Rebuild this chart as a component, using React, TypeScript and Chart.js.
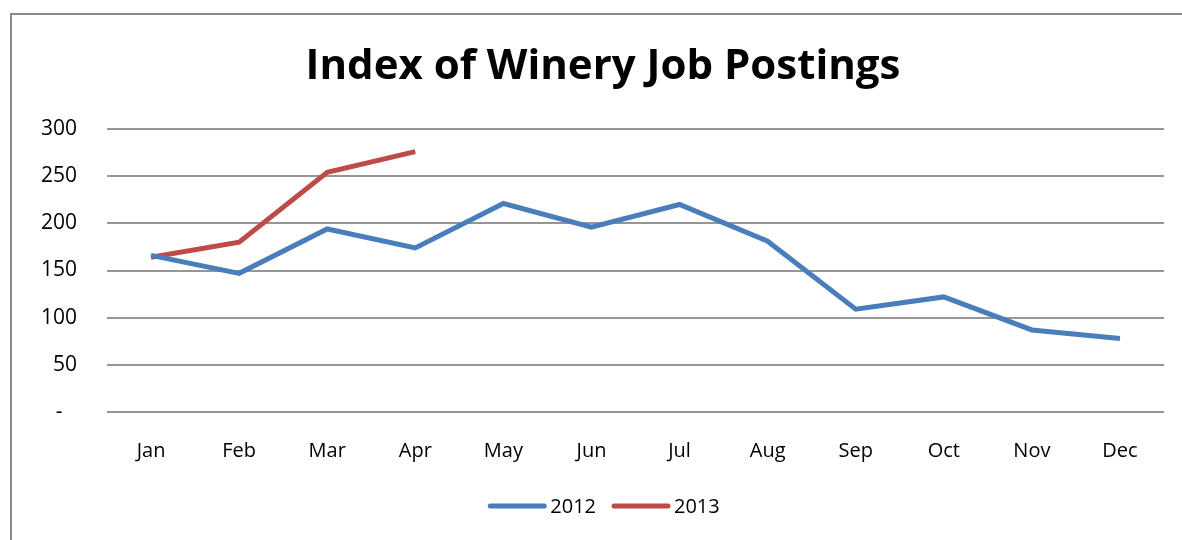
import React, { useEffect, useRef } from "react";
import { Chart, registerables } from "chart.js";

Chart.register(...registerables);

const months = ["Jan", "Feb", "Mar", "Apr", "May", "Jun", "Jul", "Aug", "Sep", "Oct", "Nov", "Dec"];
const values2012 = [166, 147, 194, 174, 221, 196, 220, 181, 109, 122, 87, 78];
const values2013 = [164, 180, 254, 276, null, null, null, null, null, null, null, null];
const yTicks = [0, 50, 100, 150, 200, 250, 300];
const titleText = "Index of Winery Job Postings";

const FONT = "'Open Sans', sans-serif";

export default function App() {
  const ref = useRef<HTMLCanvasElement | null>(null);

  useEffect(() => {
    document.body.style.margin = "0";
    const canvas = ref.current;
    if (!canvas) return;

    const titlePlugin = {
      id: "customTitle",
      afterDraw(chart: any) {
        const ctx = chart.ctx;
        ctx.save();
        ctx.font = `bold 42px ${FONT}`;
        ctx.fillStyle = "#000";
        ctx.textAlign = "center";
        ctx.textBaseline = "middle";
        ctx.fillText(titleText, 603, 67);
        ctx.restore();
      },
    };

    const legendPlugin = {
      id: "customLegend",
      afterDraw(chart: any) {
        const ctx = chart.ctx;
        ctx.save();
        ctx.font = `20px ${FONT}`;
        ctx.textBaseline = "middle";
        const y = 506;
        const lineW = 58;
        const gapText = 4;
        const gapItem = 16;
        const items = chart.data.datasets.map((d: any) => ({
          label: d.label,
          color: d.borderColor,
          w: lineW + gapText + ctx.measureText(d.label).width,
        }));
        const total = items.reduce((s: number, it: any) => s + it.w, 0) + gapItem * (items.length - 1);
        let x = 604 - total / 2;
        for (const it of items) {
          ctx.strokeStyle = it.color;
          ctx.lineWidth = 5;
          ctx.lineCap = "round";
          ctx.beginPath();
          ctx.moveTo(x + 2, y);
          ctx.lineTo(x + lineW - 2, y);
          ctx.stroke();
          ctx.fillStyle = "#000";
          ctx.textAlign = "left";
          ctx.fillText(it.label, x + lineW + gapText, y + 1);
          x += it.w + gapItem;
        }
        ctx.restore();
      },
    };

    const chart = new Chart(canvas, {
      type: "line",
      data: {
        labels: months,
        datasets: [
          {
            label: "2012",
            data: values2012,
            borderColor: "#4A7EBB",
            borderWidth: 5,
            pointRadius: 0,
            tension: 0,
            fill: false,
          },
          {
            label: "2013",
            data: values2013,
            borderColor: "#BE4B48",
            borderWidth: 5,
            pointRadius: 0,
            tension: 0,
            fill: false,
          },
        ],
      },
      options: {
        animation: false,
        responsive: false,
        maintainAspectRatio: false,
        layout: { padding: { top: 129, right: 18, bottom: 0, left: 0 } },
        plugins: {
          legend: { display: false },
          title: { display: false },
          tooltip: { enabled: false },
        },
        scales: {
          x: {
            offset: true,
            grid: { display: false, drawTicks: false },
            border: { display: false },
            ticks: {
              color: "#000",
              font: { family: FONT, size: 20 },
              padding: 27,
              maxRotation: 0,
            },
            afterFit(scale: any) {
              scale.height = 128;
            },
          },
          y: {
            min: 0,
            max: 300,
            afterBuildTicks(scale: any) {
              scale.ticks = yTicks.map((v) => ({ value: v }));
            },
            grid: { color: "#969696", lineWidth: 2, drawTicks: false },
            border: { display: false },
            ticks: {
              color: "#000",
              font: { family: FONT, size: 21 },
              padding: 30,
              callback: (v: any) => (Number(v) === 0 ? "-  \u2009" : String(v)),
            },
            afterFit(scale: any) {
              scale.width = 107;
            },
          },
        },
      },
      plugins: [titlePlugin, legendPlugin],
    });

    return () => chart.destroy();
  }, []);

  return (
    <div style={{ position: "relative", width: 1182, height: 540, background: "#fff", overflow: "hidden" }}>
      <div
        style={{
          position: "absolute",
          left: 10,
          top: 13,
          width: 1200,
          height: 600,
          borderLeft: "2px solid #8a8a8a",
          borderTop: "2px solid #8a8a8a",
          boxSizing: "border-box",
        }}
      />
      <canvas ref={ref} width={1182} height={540} style={{ position: "absolute", left: 0, top: 0, display: "block" }} />
    </div>
  );
}
